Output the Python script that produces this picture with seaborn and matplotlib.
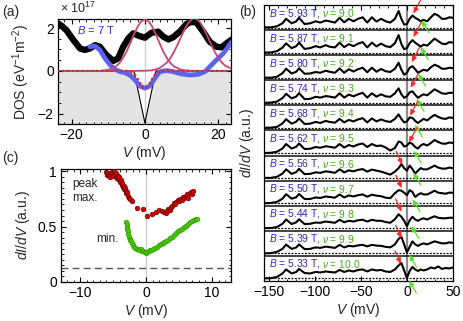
import numpy as np
import pandas as pd
import matplotlib
matplotlib.use("Agg")
import matplotlib.pyplot as plt
from matplotlib.ticker import MultipleLocator
import seaborn as sns

sns.set_theme(style="ticks")
plt.rcParams['font.family'] = ['Liberation Sans', 'DejaVu Sans']
plt.rcParams['mathtext.fontset'] = 'custom'
plt.rcParams['mathtext.rm'] = 'Liberation Sans'
plt.rcParams['mathtext.it'] = 'Liberation Sans:italic'
plt.rcParams['mathtext.bf'] = 'Liberation Sans:bold'
plt.rcParams['axes.unicode_minus'] = True

# ---------------- panel (a) data ----------------
a_black_V = [-24, -23.6, -22.7, -21.4, -19.5, -17.7, -16.4, -15, -13.6, -12.3, -10.5, -8.6, -7.3, -5.9,
             -4.5, -3.2, -1.4, 0, 1.8, 3.6, 5, 6.4, 7.7, 9.5, 11.4, 12.7, 14.1, 15.9, 17.7, 19.5, 20.9, 22.3, 24]
a_black = [2.25, 2.2, 2.1, 1.9, 1.44, 1.05, 0.98, 1.05, 1.2, 1.13, 0.74, 0.47, 0.59, 1.13,
           1.52, 1.75, 1.62, 1.55, 1.78, 1.83, 1.6, 1.47, 1.57, 1.83, 2.19, 2.29, 2.25, 1.83, 1.36, 1.13, 1.1, 1.29, 1.5]
a_blue_V = [-15, -13.6, -12.3, -10.9, -9.5, -8.2, -6.8, -5.5, -4.1, -2.7, -1.4, 0, 1.4, 2.7, 4.1, 5.9,
            7.7, 10, 12.3, 14.5, 16.4, 17.7, 19.5, 21.4, 23.5, 24]
a_blue = [1.13, 1.16, 0.98, 0.59, 0.28, 0.08, -0.03, -0.08, -0.19, -0.42, -0.7, -0.8, -0.7, -0.34, -0.03, 0.02,
          -0.03, -0.14, -0.19, -0.16, -0.03, 0.2, 0.51, 0.82, 1.32, 1.4]
a_fit_V = [-24, -5, -4, -3, -2.5, -2, -1.5, -1, -0.5, 0, 0.5, 1, 1.5, 2, 2.5, 3, 4, 5, 24]
a_fit = [0, 0, -0.03, -0.12, -0.22, -0.36, -0.52, -0.67, -0.78, -0.82, -0.78, -0.67, -0.52, -0.36, -0.22, -0.12,
         -0.03, 0, 0]
a_g1_V = [-12, -10, -8, -7, -6, -5, -4, -3, -2, -1, 0, 1, 2, 3, 4, 5, 6, 7, 8, 10, 12]
a_g1 = [0.01, 0.05, 0.2, 0.36, 0.6, 0.91, 1.29, 1.7, 2.06, 2.31, 2.4, 2.31, 2.06, 1.7, 1.29, 0.91, 0.6, 0.36,
        0.2, 0.05, 0.01]
a_g2_V = [-4, 0, 2, 4, 6, 7, 8, 9, 10, 11, 12, 13, 13.5, 14, 15, 16, 17, 18, 19, 20, 21, 22, 24]
a_g2 = [0.0, 0.01, 0.03, 0.13, 0.39, 0.61, 0.91, 1.26, 1.64, 1.99, 2.28, 2.43, 2.45, 2.43, 2.28, 1.99, 1.64,
        1.26, 0.91, 0.61, 0.39, 0.23, 0.09]
a_bare_V = [-25, -3, 0, 3, 25]
a_bare = [0, 0, -2.42, 0, 0]

# ---------------- panel (b) data ----------------
Vb = [-155, -148, -141, -135, -131, -125, -120, -117, -111, -105, -99, -94, -88, -84, -78, -73, -68, -63, -58,
      -53, -48, -43, -38, -33, -28, -23, -18, -13, -9, -6, -3, 0, 3, 6, 9, 12, 15, 18, 22, 26, 30, 34, 38, 42,
      46, 50]
B_fields = [5.93, 5.87, 5.80, 5.74, 5.68, 5.62, 5.56, 5.50, 5.44, 5.39, 5.33]
nu_vals = [9.0, 9.1, 9.2, 9.3, 9.4, 9.5, 9.6, 9.7, 9.8, 9.9, 10.0]

didv_593 = [.11, .11, .15, .27, .45, .27, .35, .49, .24, .27, .35, .30, .38, .35, .30, .49, .31, .45, .35, .45, .51, .30, .51, .34, .45, .35, .30,
            .45, .76, .45, .22, .24, .45, .58, .49, .43, .35, .41, .35, .51, .65, .58, .45, .45, .51, .49]
didv_587 = [.10, .11, .16, .30, .47, .28, .36, .50, .25, .28, .36, .31, .40, .34, .31, .50, .32, .44, .36, .46, .52, .31, .50, .35, .46, .36, .32,
            .48, .80, .44, .24, .28, .48, .60, .50, .42, .34, .42, .38, .52, .66, .56, .46, .44, .52, .50]
didv_580 = [.11, .10, .14, .28, .46, .27, .34, .48, .26, .27, .33, .30, .38, .34, .30, .47, .30, .44, .35, .44, .50, .32, .50, .34, .45, .36, .33,
            .46, .70, .42, .22, .30, .50, .56, .44, .30, .36, .42, .38, .52, .62, .56, .46, .46, .50, .48]
didv_574 = [.10, .11, .15, .29, .46, .28, .35, .49, .25, .26, .34, .31, .37, .35, .31, .48, .31, .43, .36, .44, .50, .31, .48, .35, .44, .36, .34,
            .48, .68, .44, .30, .36, .52, .56, .42, .30, .38, .44, .40, .52, .64, .56, .48, .46, .50, .50]
didv_568 = [.11, .11, .14, .28, .45, .27, .35, .48, .26, .27, .34, .30, .38, .34, .31, .46, .32, .42, .36, .44, .49, .32, .48, .36, .44, .37, .34,
            .46, .64, .46, .32, .36, .52, .50, .38, .30, .38, .46, .40, .52, .62, .54, .48, .46, .52, .50]
didv_562 = [.10, .11, .15, .28, .46, .28, .35, .48, .26, .27, .34, .31, .37, .35, .31, .46, .32, .42, .36, .44, .48, .34, .46, .38, .40, .32, .20,
            .30, .56, .52, .36, .40, .52, .46, .34, .28, .40, .46, .40, .50, .62, .54, .48, .47, .52, .50]
didv_556 = [.11, .11, .15, .28, .45, .27, .34, .47, .26, .27, .33, .31, .37, .35, .31, .45, .33, .41, .37, .43, .46, .36, .44, .40, .36, .30, .24,
            .36, .50, .66, .50, .40, .60, .46, .28, .40, .50, .45, .45, .52, .60, .52, .48, .48, .52, .50]
didv_550 = [.10, .11, .15, .28, .46, .28, .34, .47, .27, .27, .33, .31, .37, .35, .32, .45, .33, .41, .37, .42, .45, .36, .44, .40, .38, .32, .30,
            .50, .62, .60, .52, .42, .62, .55, .35, .44, .50, .45, .45, .52, .60, .52, .50, .48, .52, .52]
didv_544 = [.11, .11, .15, .28, .45, .27, .34, .46, .27, .28, .33, .32, .37, .35, .32, .44, .34, .40, .37, .42, .44, .37, .44, .40, .40, .35, .32,
            .46, .66, .56, .40, .18, .42, .56, .45, .40, .46, .50, .45, .52, .58, .52, .50, .50, .52, .52]
didv_539 = [.10, .11, .16, .28, .45, .28, .34, .46, .27, .28, .34, .32, .37, .35, .32, .44, .34, .40, .38, .42, .44, .38, .44, .41, .40, .36, .34,
            .46, .68, .76, .46, .14, .36, .58, .46, .40, .46, .50, .46, .52, .58, .54, .50, .50, .54, .52]
didv_533 = [.11, .11, .16, .30, .46, .30, .36, .48, .32, .30, .36, .34, .38, .36, .34, .44, .36, .42, .38, .44, .46, .38, .46, .42, .44, .38, .36,
            .46, .62, .72, .42, .12, .40, .56, .46, .40, .46, .42, .46, .54, .50, .58, .48, .52, .50, .54]
didv_traces = [didv_593, didv_587, didv_580, didv_574, didv_568, didv_562,
               didv_556, didv_550, didv_544, didv_539, didv_533]

red_tip_V = [7, 7, 5.1, 4, 3.3, 2.2, -5.0, -5.5, -5.8, -5.8, -6.5]
red_tip_y = [.66, .72, .72, .70, .59, .52, .64, .70, .76, .70, .68]
green_tip_V = [16, 15, 12.3, 10.5, 8.7, 7.6, 7.0, 6.2, 5.0, 2.5, 2.2]
green_tip_y = [.39, .32, .26, .26, .23, .19, .32, .26, .19, .05, .02]

# ---------------- panel (c) data ----------------
pk_V = [-6.1, -5.9, -5.8, -5.6, -5.5, -5.4, -5.2, -5.1, -5.0, -4.9, -4.8, -4.7, -4.6, -4.5, -4.4, -4.3, -4.2, -4.1, -4.0,
        -3.9, -3.8, -3.7, -3.6, -3.5, -3.4, -3.3, -3.2, -3.1, -3.0, -2.9, -2.8, -2.6, -2.4, -2.2,
        -1.4, -0.4, 0.2, 0.9, 1.5, 2.0, 2.4, 2.7, 3.0,
        3.2, 3.4, 3.6, 3.8, 4.0, 4.2, 4.4, 4.6, 4.8, 5.0, 5.2, 5.4, 5.6, 5.8, 6.0, 6.2, 6.4, 6.6, 6.8, 7.0, 7.2]
pk_val = [0.99, 0.97, 0.98, 0.96, 0.98, 0.95, 0.97, 0.99, 0.96, 0.98, 1.00, 0.97, 0.95, 0.98, 0.94, 0.96, 0.93, 0.95, 0.92,
          0.90, 0.92, 0.88, 0.89, 0.86, 0.87, 0.84, 0.85, 0.82, 0.80, 0.81, 0.78, 0.76, 0.75, 0.73,
          0.67, 0.66, 0.60, 0.61, 0.63, 0.65, 0.64, 0.63, 0.62,
          0.64, 0.66, 0.65, 0.68, 0.69, 0.71, 0.70, 0.72, 0.74, 0.73, 0.75, 0.74, 0.77, 0.76, 0.78, 0.79, 0.76, 0.80, 0.81, 0.79, 0.82]
mn_V = [-3.0, -2.95, -2.9, -2.85, -2.8, -2.7, -2.6, -2.5, -2.4, -2.3, -2.2, -2.0, -1.8, -1.6, -1.4, -1.2, -1.0, -0.8, -0.6,
        -0.4, -0.2, 0.0, 0.2, 0.4, 0.6, 0.8, 1.0, 1.3, 1.6, 1.9, 2.2, 2.5, 2.8, 3.1, 3.4, 3.7, 4.0, 4.3, 4.6, 4.9, 5.2,
        5.5, 5.8, 6.1, 6.4, 6.7, 7.0, 7.3, 7.6, 7.8]
mn_val = [0.54, 0.52, 0.50, 0.48, 0.46, 0.43, 0.41, 0.39, 0.38, 0.37, 0.35, 0.33, 0.32, 0.31, 0.30, 0.30, 0.29, 0.30, 0.28,
          0.28, 0.27, 0.26, 0.27, 0.28, 0.29, 0.29, 0.30, 0.31, 0.32, 0.33, 0.34, 0.35, 0.36, 0.37, 0.38, 0.40, 0.41,
          0.42, 0.44, 0.46, 0.47, 0.48, 0.50, 0.51, 0.52, 0.54, 0.55, 0.56, 0.57, 0.57]
noise_level = 0.13

# ---------------- figure ----------------
fig = plt.figure(figsize=(4.63, 3.21), dpi=100)
ax_a = fig.add_axes([0.1253, 0.6137, 0.3737, 0.3271])
ax_c = fig.add_axes([0.1318, 0.1215, 0.3672, 0.352])
ax_b = fig.add_axes([0.5702, 0.1246, 0.4082, 0.8598])

def style_axis(ax):
    for s in ax.spines.values():
        s.set_linewidth(0.9)
        s.set_color('black')
    ax.tick_params(which='both', direction='in', top=True, right=True, colors='black',
                   labelsize=10, pad=3)
    ax.tick_params(which='major', length=3.5, width=0.8)
    ax.tick_params(which='minor', length=1.8, width=0.6)

# ---- panel (a)
ax = ax_a
ax.fill_between(a_bare_V, -3, a_bare, color='#e4e4e4', lw=0, zorder=0)
ax.axvline(0, color='#cfcfcf', lw=1.0, zorder=0.5)
sns.lineplot(x=a_bare_V, y=a_bare, ax=ax, color='black', lw=0.8, sort=False, estimator=None, zorder=1)
sns.lineplot(x=a_black_V, y=a_black, ax=ax, color='black', lw=4.6, sort=False, estimator=None, zorder=2)
sns.lineplot(x=a_blue_V, y=a_blue, ax=ax, color='#5d62f0', lw=3.4, sort=False, estimator=None, zorder=3)
sns.lineplot(x=a_g1_V, y=a_g1, ax=ax, color='#cc4477', lw=1.3, sort=False, estimator=None, zorder=4)
sns.lineplot(x=a_g2_V, y=a_g2, ax=ax, color='#cc4477', lw=1.3, sort=False, estimator=None, zorder=4)
sns.lineplot(x=a_fit_V, y=a_fit, ax=ax, color='#ff1a1a', lw=1.6, linestyle=(0, (1, 1.2)), sort=False,
             estimator=None, zorder=5)
ax.set_xlim(-23.7, 23.5)
ax.set_ylim(-2.47, 2.42)
ax.set_xticks([-20, 0, 20])
ax.set_yticks([-2, 0, 2])
ax.xaxis.set_minor_locator(MultipleLocator(2))
ax.yaxis.set_minor_locator(MultipleLocator(0.5))
style_axis(ax)
ax.set_xlabel('$V$ (mV)', fontsize=10, labelpad=1)
ax.set_ylabel('DOS (eV$^{-1}$m$^{-2}$)', fontsize=10, labelpad=4)
ax.text(0.01, 1.03, '× 10$^{17}$', transform=ax.transAxes, fontsize=9, va='bottom', ha='left')
ax.text(-18.6, 1.9, '$B$ = 7 T', color='#3030c8', fontsize=8, va='center', ha='left', zorder=6)

# ---- panel (c)
ax = ax_c
ax.axvline(0, color='#cfcfcf', lw=1.0, zorder=0.5)
ax.axhline(noise_level, color='#555555', lw=1.0, dashes=(5, 3), zorder=1)
sns.scatterplot(x=pk_V, y=pk_val, ax=ax, color='#d40000', edgecolor='#700000', linewidth=0.5, s=11, zorder=3,
                legend=False)
sns.scatterplot(x=mn_V, y=mn_val, ax=ax, color='#4fd000', edgecolor='#2e9a00', linewidth=0.5, s=11, zorder=3,
                legend=False)
ax.set_xlim(-12.9, 12.9)
ax.set_ylim(0, 1.02)
ax.set_xticks([-10, 0, 10])
ax.set_yticks([0, 0.5, 1])
ax.set_yticklabels(['0', '0.5', '1'])
ax.xaxis.set_minor_locator(MultipleLocator(1))
ax.yaxis.set_minor_locator(MultipleLocator(0.05))
style_axis(ax)
ax.set_xlabel('$V$ (mV)', fontsize=10, labelpad=1)
ax.set_ylabel('$dI/dV$ (a.u.)', fontsize=10, labelpad=4)
ax.text(-11.2, 0.82, 'peak\nmax.', fontsize=8.5, ha='left', va='center', linespacing=1.15)
ax.text(-7.5, 0.39, 'min.', fontsize=8.5, ha='left', va='center')

# ---- panel (b)
ax = ax_b
n = len(didv_traces)
ax.axvline(0, color='#8c8c8c', lw=1.6, zorder=0.5)
for k in range(1, n):
    ax.axhline(k, color='#222222', lw=1.2, zorder=1)
arrow_style = '-|>,head_length=0.32,head_width=0.14'
for k, trace in enumerate(didv_traces):
    off = n - 1 - k
    ax.axhline(off + 0.1, color='black', lw=0.9, linestyle=(0, (1.5, 1.2)), zorder=1.5)
    sns.lineplot(x=Vb, y=np.array(trace) + off, ax=ax, color='black', lw=1.5, sort=False, estimator=None,
                 zorder=3)
    ax.text(-150, off + 0.68, f'$B$ = {B_fields[k]:.2f} T,', color='#2b2bc0', fontsize=7.4, va='center',
            ha='left', zorder=4)
    ax.text(-92, off + 0.68, f'$\\nu$ = {nu_vals[k]:.1f}', color='#44b014', fontsize=7.4, va='center',
            ha='left', zorder=4)
    # red arrow
    tip = (red_tip_V[k], off + red_tip_y[k])
    if k < 6:
        tail = (tip[0] + 8.5, tip[1] + 0.58)
    else:
        tail = (tip[0] - 6.5, tip[1] + 0.52)
    ax.annotate('', xy=tip, xytext=tail, annotation_clip=False,
                arrowprops=dict(arrowstyle=arrow_style, color='#ff2a2a', lw=0.9,
                                shrinkA=0, shrinkB=0, mutation_scale=10), zorder=5)
    tip = (green_tip_V[k], off + green_tip_y[k])
    tail = (tip[0] + 8.0, tip[1] - 0.5)
    ax.annotate('', xy=tip, xytext=tail, annotation_clip=False,
                arrowprops=dict(arrowstyle=arrow_style, color='#5ee02a', lw=0.9,
                                shrinkA=0, shrinkB=0, mutation_scale=10), zorder=5)
ax.set_xlim(-155, 50)
ax.set_ylim(0, n)
ax.set_xticks([-150, -100, -50, 0, 50])
ax.xaxis.set_minor_locator(MultipleLocator(10))
ax.set_yticks([])
style_axis(ax)
ax.tick_params(which='both', left=False, right=False)
ax.set_xlabel('$V$ (mV)', fontsize=10, labelpad=1)
ax.set_ylabel('$dI/dV$ (a.u.)', fontsize=10, labelpad=6)

# panel labels
fig.text(0.004, 0.962, '(a)', fontsize=10, va='center', ha='left')
fig.text(0.517, 0.962, '(b)', fontsize=10, va='center', ha='left')
fig.text(0.004, 0.508, '(c)', fontsize=10, va='center', ha='left')

fig.savefig('out.png', dpi=100)
